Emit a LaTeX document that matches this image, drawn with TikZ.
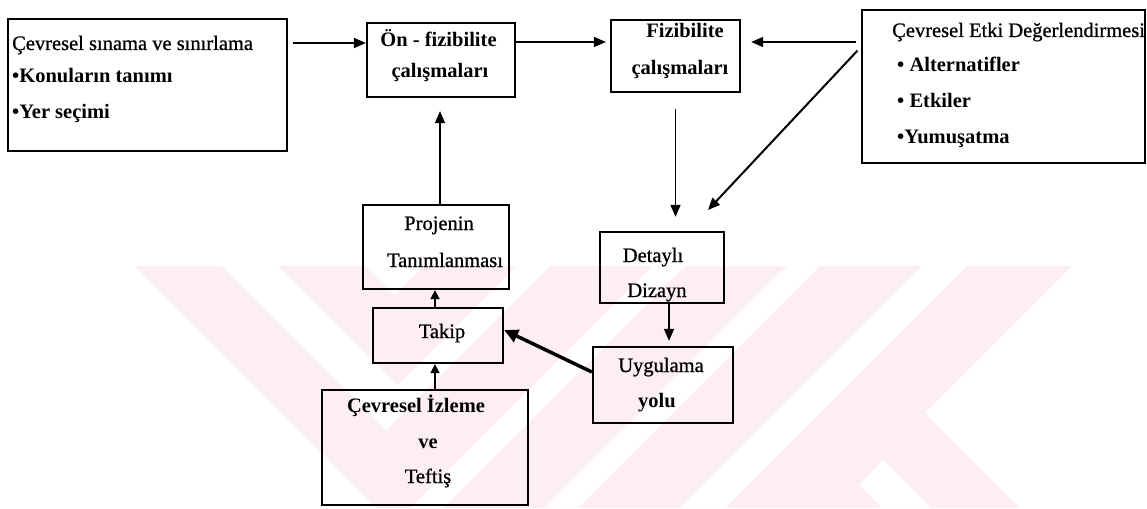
\documentclass[tikz,border=0pt]{standalone}
\usepackage{fontspec}
\setmainfont{Liberation Serif}
\usetikzlibrary{arrows.meta}
\definecolor{wmpink}{RGB}{253,238,241}
\begin{document}
\begin{tikzpicture}[x=1pt,y=-1pt,
  box/.style={draw, line width=2.3pt, inner sep=0pt},
  txt/.style={inner sep=0pt, font=\fontsize{20.5}{24}\selectfont\addfontfeature{FakeBold=0.8}},
  btxt/.style={inner sep=0pt, font=\fontsize{20.5}{24}\selectfont\bfseries},
  arr/.style={line width=1.6pt, -{Triangle[length=12pt,width=10pt]}},
  sarr/.style={line width=1.6pt, -{Triangle[length=9pt,width=9pt]}},
  thickarr/.style={line width=3.5pt, -{Triangle[length=14pt,width=13pt]}},
]
\useasboundingbox (0,0) rectangle (1147,508);
\fill[white] (0,0) rectangle (1147,508);

% pale background emblem
\fill[wmpink] (135,266) -- (1072,266) -- (925,413) -- (1020,508) -- (377,508) -- cycle;
\fill[white] (222,266) -- (386,430) -- (550,266) -- (517,266) -- (397.5,385.5) -- (278,266) -- cycle;
\fill[white] (365,266) -- (394.5,295.5) -- (424,266) -- cycle;
\fill[white] (652,266) -- (685,266) -- (443,508) -- (410,508) -- cycle;
\fill[white] (787,266) -- (820,266) -- (578,508) -- (545,508) -- cycle;
\fill[white] (922,266) -- (967,266) -- (725,508) -- (680,508) -- cycle;
\fill[white] (859,485) -- (883,460) -- (931,508) -- (882,508) -- cycle;

% boxes
\node[box, minimum width=279pt, minimum height=132pt] (b1) at (147.5,85) {};
\node[box, minimum width=148pt, minimum height=74pt] (on) at (441,60) {};
\node[box, minimum width=129pt, minimum height=72pt] (fz) at (675.5,56) {};
\node[box, minimum width=283pt, minimum height=153pt] (ce) at (1003.5,86.5) {};
\node[box, minimum width=146pt, minimum height=84pt] (pr) at (436,247) {};
\node[box, minimum width=124pt, minimum height=71pt] (dt) at (662,267.5) {};
\node[box, minimum width=130pt, minimum height=55pt] (tk) at (438,335.5) {};
\node[box, minimum width=140pt, minimum height=76pt] (uy) at (663,385) {};
\node[box, minimum width=206pt, minimum height=115pt] (iz) at (425,447.5) {};

% texts
\node[txt, anchor=base west] (b1a) at (12,50) {Çevresel sınama ve sınırlama};
\node[btxt, anchor=base west] (b1b) at (12,83) {•Konuların tanımı};
\node[btxt, anchor=base west] (b1c) at (12,118) {•Yer seçimi};

\node[btxt, anchor=base] (ona) at (438.5,47) {Ön - fizibilite};
\node[btxt, anchor=base] (onb) at (440,78) {çalışmaları};

\node[btxt, anchor=base] (fza) at (685,38) {Fizibilite};
\node[btxt, anchor=base] (fzb) at (680,75) {çalışmaları};

\node[txt, anchor=base west] (cea) at (892,37) {Çevresel Etki Değerlendirmesi};
\node[btxt, anchor=base west] (ceb) at (897,72) {• Alternatifler};
\node[btxt, anchor=base west] (cec) at (897,107) {• Etkiler};
\node[btxt, anchor=base west] (ced) at (897,143) {•Yumuşatma};

\node[txt, anchor=base] (pra) at (439,230) {Projenin};
\node[txt, anchor=base] (prb) at (445,267) {Tanımlanması};

\node[txt, anchor=base] (dta) at (653,262) {Detaylı};
\node[txt, anchor=base] (dtb) at (657,297) {Dizayn};

\node[txt, anchor=base] (tka) at (442,338) {Takip};

\node[txt, anchor=base] (uya) at (661,372) {Uygulama};
\node[btxt, anchor=base] (uyb) at (657,407) {yolu};

\node[btxt, anchor=base] (iza) at (416,412) {Çevresel İzleme};
\node[btxt, anchor=base] (izb) at (428,448) {ve};
\node[txt, anchor=base] (izc) at (428,483) {Teftiş};

% connectors
\coordinate (dtin) at (708,210);
\draw[arr, shorten <=5pt] (b1.east |- 0,43) -- (on.west |- 0,43);
\draw[arr, shorten >=4pt] (on.east |- 0,42) -- (fz.west |- 0,42);
\draw[arr, shorten <=5pt, shorten >=10pt] (ce.west |- 0,42) -- (fz.east |- 0,42);
\draw[arr, line width=2pt, shorten <=5pt] (ce.west |- 0,47) -- (dtin);
\draw[arr, shorten <=16pt, shorten >=14pt] (fz.south) -- (fz.south |- dt.north);
\draw[arr, shorten >=13pt] (pr.north -| 440,0) -- (on.south -| 440,0);
\draw[sarr] (tk.north -| 435,0) -- (pr.south -| 435,0);
\draw[sarr] (iz.north -| 435,0) -- (tk.south -| 435,0);
\draw[arr, shorten >=5pt] (dt.south -| 669,0) -- (uy.north -| 669,0);
\draw[thickarr] (uy.west |- 0,372) -- (tk.east |- 0,330);
\end{tikzpicture}
\end{document}
